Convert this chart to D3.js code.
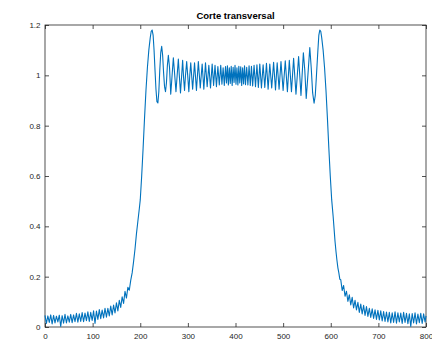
<!DOCTYPE html>
<html>
<head>
<meta charset="utf-8">
<script src="https://cdn.jsdelivr.net/npm/d3@7"></script>
<style>
  html, body { margin: 0; padding: 0; background: #fff; }
  svg { display: block; }
  text { font-family: "Liberation Sans", Arial, Helvetica, sans-serif; }
</style>
</head>
<body>
<div id="chart"></div>
<script>
// Intensity profile across the slit: [position, intensity]
const leftTail = [
  [0,0.046],[3,0.014],[6,0.044],[9,0.018],[12,0.048],[15,0.012],[18,0.046],[21,0.016],
  [24,0.043],[27,0.020],[30,0.047],[33,0.002],[36,0.045],[39,0.015],[42,0.050],[45,0.016],
  [48,0.044],[51,0.019],[54,0.050],[57,0.017],[60,0.048],[63,0.021],[66,0.054],[69,0.019],
  [72,0.052],[75,0.022],[78,0.057],[81,0.021],[84,0.055],[87,0.025],[90,0.060],[93,0.022],
  [96,0.058],[99,0.026],[102,0.064],[105,0.014],[108,0.063],[111,0.030],[114,0.069],[117,0.033],
  [120,0.067],[123,0.036],[126,0.074],[129,0.039],[132,0.074],[135,0.044],[138,0.083],[141,0.048],
  [144,0.087],[147,0.056],[150,0.096],[153,0.064],[156,0.106],[159,0.078],[162,0.120],[165,0.094],
  [168,0.142],[171,0.115],[174,0.158],[177,0.146],[180,0.185]
];

const leftEdge = [
  [183,0.215],[186,0.26],[189,0.31],[192,0.37],[195,0.42],[198,0.47],[200,0.505],[203,0.60],
  [206,0.71],[209,0.83],[212,0.94],[215,1.03],[218,1.10],[221,1.15],[223,1.175],[225,1.18],
  [227,1.16],[229,1.10],[231,1.02],[233,0.945],[235,0.895],[237,0.89],[239,0.935],[241,1.02],
  [243,1.09],[245,1.115],[247,1.08],[249,1.01],[251,0.955],[253,0.935],[255,0.97],[257,1.04]
];

const plateau = [
  [259,1.080],[261.5,1.03],[264,0.925],[266.5,0.99],[269.5,1.070],[272,1.01],[275,0.935],[277.5,1.00],
  [280,1.065],[282,1.00],[284.5,0.930],[287,1.00],[289,1.060],[291,0.99],[293,0.940],[295,1.00],
  [297.5,1.055],[300,0.99],[302,0.935],[304,1.00],[306,1.050],[310,0.945],[314,1.050],[318,0.940],
  [322,1.055],[326,0.950],[330,1.045],[333.5,0.945],[337,1.050],[340.5,0.955],[344,1.040],[347.5,0.950],
  [351,1.045],[354,0.960],[357,1.040],[360,0.955],[363,1.035],[366,0.962],[369,1.040],[371.5,0.965],
  [374,1.030],[376.5,0.960],[379,1.035],[381,0.970],[383,1.038],[385,0.962],[387,1.030],[389,0.968],
  [391,1.036],[393,0.960],[395,1.032],[397,0.972],[399,1.040],[401,0.965],[403,1.030],[405,0.962],
  [407,1.036],[409,0.970],[411,1.034],[413,0.960],[415,1.030],[417,0.966],[419,1.038],[421,0.963],
  [423.5,1.032],[426,0.962],[428.5,1.038],[431,0.960],[433.5,1.036],[436,0.958],[439,1.040],[442,0.955],
  [445,1.042],[448,0.952],[451,1.045],[454.5,0.950],[458,1.042],[461.5,0.952],[465,1.048],[468.5,0.945],
  [472,1.045],[476,0.950],[480,1.052],[484,0.942],[487.5,1.050],[491.5,0.945],[495.5,1.055],[500,0.940],
  [504.5,1.058],[509,0.935],[513,1.060],[517.5,0.935],[522,1.068],[527,0.925],[532.5,1.075],[537.5,0.920],
  [542.5,1.090],[545.5,1.02],[548.5,0.908],[552,1.00],[556,1.110],[559,1.03],[562,0.93],[565,0.889],
  [567.5,0.92],[570,1.00],[573,1.10]
];

const rightEdge = [
  [575,1.16],[577,1.18],[579,1.175],[581,1.15],[584,1.10],[587,1.03],[590,0.94],[593,0.83],
  [596,0.71],[599,0.60],[602,0.505],[605,0.44],[607,0.39],[609,0.34],[611,0.30],[613,0.265],
  [615,0.235],[617,0.215],[619,0.19]
];

const rightTail = [
  [621,0.188],[624,0.145],[627,0.165],[630,0.122],[633,0.142],[636,0.102],[639,0.128],[642,0.088],
  [645,0.118],[648,0.076],[651,0.106],[654,0.068],[657,0.098],[660,0.058],[663,0.091],[666,0.052],
  [669,0.086],[672,0.046],[675,0.081],[678,0.042],[681,0.074],[684,0.038],[687,0.072],[690,0.034],
  [693,0.068],[696,0.030],[699,0.066],[702,0.028],[705,0.064],[708,0.024],[711,0.061],[714,0.022],
  [717,0.059],[720,0.020],[723,0.058],[726,0.016],[729,0.056],[732,0.018],[735,0.060],[738,0.015],
  [741,0.056],[744,0.020],[747,0.055],[750,0.014],[753,0.058],[756,0.018],[759,0.054],[762,0.013],
  [765,0.052],[768,0.002],[771,0.053],[774,0.016],[777,0.056],[780,0.012],[783,0.051],[786,0.017],
  [789,0.054],[792,0.014],[795,0.052],[798,0.020],[800,0.044]
];

const xTicks = [0, 100, 200, 300, 400, 500, 600, 700, 800];
const yTicks = [0, 0.2, 0.4, 0.6, 0.8, 1, 1.2];
const yTickLabels = ["0", "0.2", "0.4", "0.6", "0.8", "1", "1.2"];
const title = "Corte transversal";

const profile = leftTail.concat(leftEdge, plateau, rightEdge, rightTail);

const W = 432, H = 340;
const m = { left: 45, right: 6, top: 25, bottom: 13 };

const svg = d3.select("#chart").append("svg")
  .attr("width", W).attr("height", H);

const x = d3.scaleLinear().domain([0, 800]).range([m.left, W - m.right]);
const y = d3.scaleLinear().domain([0, 1.2]).range([H - m.bottom, m.top]);

const axisColor = "#262626";
const tickLen = 4;

function styleAxis(g) {
  g.select(".domain").remove();
  g.selectAll(".tick line").attr("stroke", axisColor).attr("stroke-width", 0.8);
  g.selectAll(".tick text").attr("fill", axisColor).attr("font-size", 8);
}

// bottom axis with labels, ticks pointing inward
svg.append("g")
  .attr("transform", `translate(0,${y(0)})`)
  .call(d3.axisBottom(x).tickValues(xTicks).tickFormat(d3.format("d"))
    .tickSizeInner(-tickLen).tickSizeOuter(0).tickPadding(6.5))
  .call(styleAxis);

// top axis, ticks only
svg.append("g")
  .attr("transform", `translate(0,${y(1.2)})`)
  .call(d3.axisTop(x).tickValues(xTicks).tickFormat("")
    .tickSizeInner(-tickLen).tickSizeOuter(0))
  .call(styleAxis);

// left axis with labels
svg.append("g")
  .attr("transform", `translate(${x(0)},0)`)
  .call(d3.axisLeft(y).tickValues(yTicks).tickFormat((d, i) => yTickLabels[i])
    .tickSizeInner(-tickLen).tickSizeOuter(0).tickPadding(4.5))
  .call(styleAxis);

// right axis, ticks only
svg.append("g")
  .attr("transform", `translate(${x(800)},0)`)
  .call(d3.axisRight(y).tickValues(yTicks).tickFormat("")
    .tickSizeInner(-tickLen).tickSizeOuter(0))
  .call(styleAxis);

// frame
svg.append("rect")
  .attr("x", x(0)).attr("y", y(1.2))
  .attr("width", x(800) - x(0)).attr("height", y(0) - y(1.2))
  .attr("fill", "none").attr("stroke", axisColor).attr("stroke-width", 0.8);

// profile curve
const line = d3.line().x(d => x(d[0])).y(d => y(d[1]));
svg.append("path")
  .datum(profile)
  .attr("d", line)
  .attr("fill", "none")
  .attr("stroke", "#0072BD")
  .attr("stroke-width", 1.1)
  .attr("stroke-linejoin", "round");

// title
svg.append("text")
  .attr("x", (x(0) + x(800)) / 2)
  .attr("y", 19)
  .attr("text-anchor", "middle")
  .attr("font-size", 9.5)
  .attr("font-weight", "bold")
  .attr("fill", "#000")
  .text(title);
</script>
</body>
</html>
